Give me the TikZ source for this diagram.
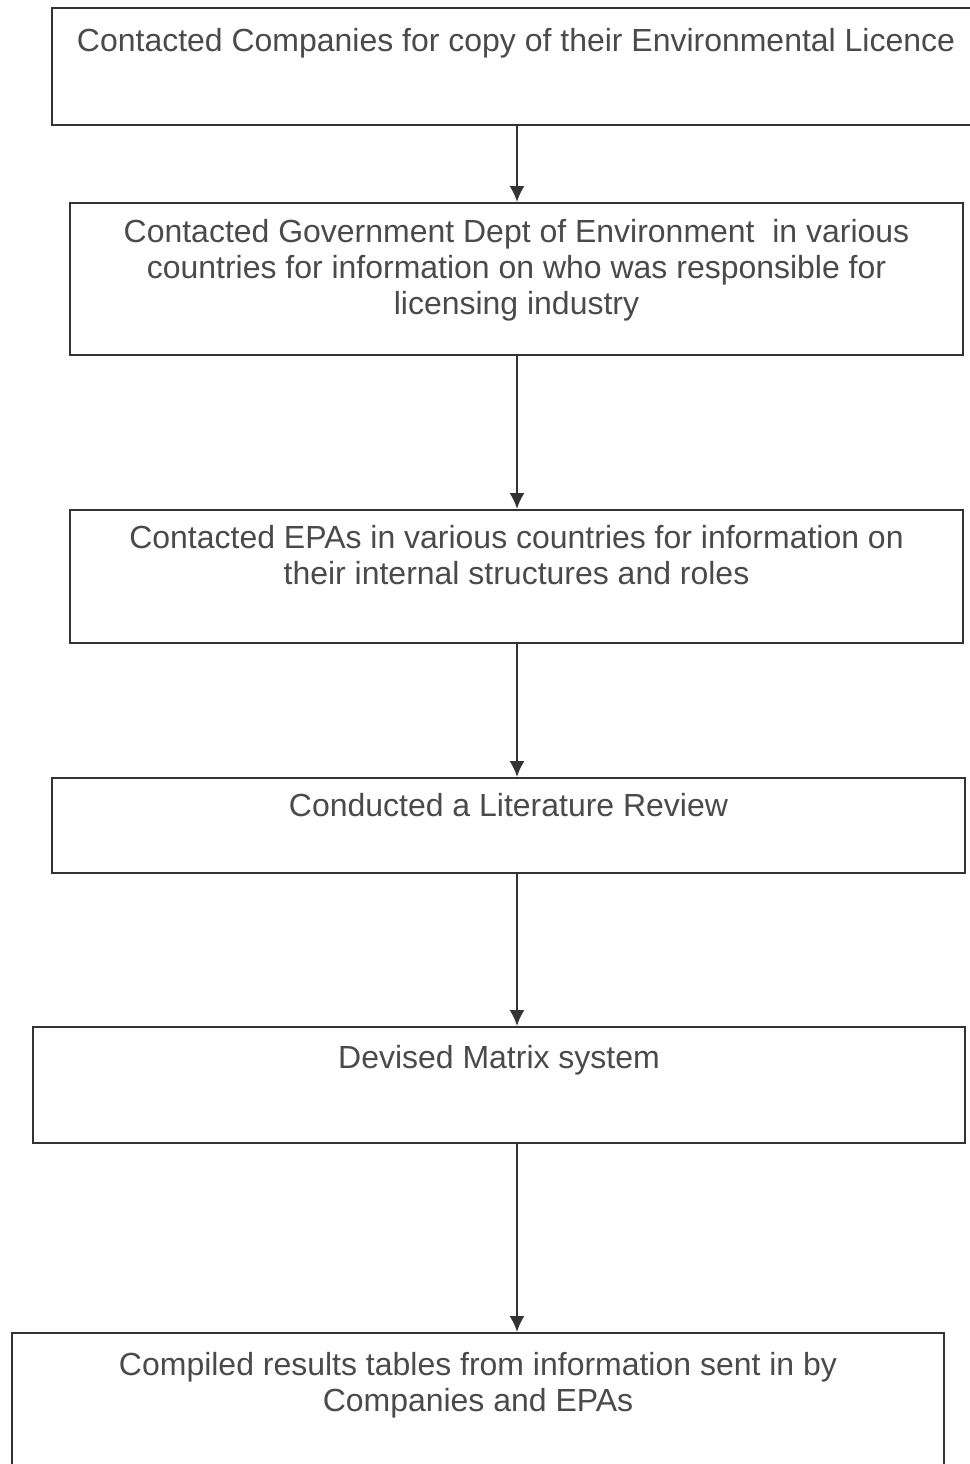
\documentclass[tikz,border=0pt]{standalone}
\usepackage{fontspec}
\setmainfont{Liberation Sans}
\usetikzlibrary{positioning, arrows.meta}
\definecolor{boxline}{HTML}{333333}
\definecolor{boxtext}{HTML}{4A4A4A}
\tikzset{
    stage/.style={draw=boxline, rectangle, line width=1.2pt, inner sep=0pt},
    stagetext/.style={align=center, inner sep=0pt, text=boxtext, font=\fontsize{18.2}{20.5}\selectfont},
    flow/.style={-{Latex[length=9pt,width=8.5pt]}, draw=boxline, line width=1.2pt} }

\begin{document}
\begin{tikzpicture}[x=0.02cm, y=-0.02cm]
			\clip (0,0) rectangle (970,1464);
			\coordinate (spine) at (517,0);
			% ----
			\node[stage, minimum width=18.56cm, minimum height=2.34cm] (licence) at (516,66.5) {};
			\node[stage, minimum width=17.86cm, minimum height=3.04cm] (govt) at (516.5,279) {};
			\node[stage, minimum width=17.86cm, minimum height=2.66cm] (epas) at (516.5,576.5) {};
			\node[stage, minimum width=18.26cm, minimum height=1.90cm] (review) at (508.5,825.5) {};
			\node[stage, minimum width=18.64cm, minimum height=2.32cm] (matrix) at (499,1085) {};
			\node[stage, minimum width=18.64cm, minimum height=2.94cm] (results) at (478,1406.5) {};
			% ----
			\node[stagetext, below=0.42cm of licence.north] (licencetext) {Contacted Companies for copy of their Environmental Licence};
			\node[stagetext, below=0.34cm of govt.north] (govttext) {Contacted Government Dept of Environment\ \ in various\\
				countries for information on who was responsible for\\ licensing industry};
			\node[stagetext, below=0.32cm of epas.north] (epastext) {Contacted EPAs in various countries for information on\\
				their internal structures and roles};
			\node[stagetext, below=0.32cm of review.north] (reviewtext) {Conducted a Literature Review};
			\node[stagetext, below=0.38cm of matrix.north] (matrixtext) {Devised Matrix system};
			\node[stagetext, below=0.4cm of results.north] (resultstext) {Compiled results tables from information sent in by\\
				Companies and EPAs};
			% ----
			\draw[flow] (licence.south -| spine) -- (govt.north -| spine);
			\draw[flow] (govt.south -| spine) -- (epas.north -| spine);
			\draw[flow] (epas.south -| spine) -- (review.north -| spine);
			\draw[flow] (review.south -| spine) -- (matrix.north -| spine);
			\draw[flow] (matrix.south -| spine) -- (results.north -| spine);
		\end{tikzpicture}
\end{document}
